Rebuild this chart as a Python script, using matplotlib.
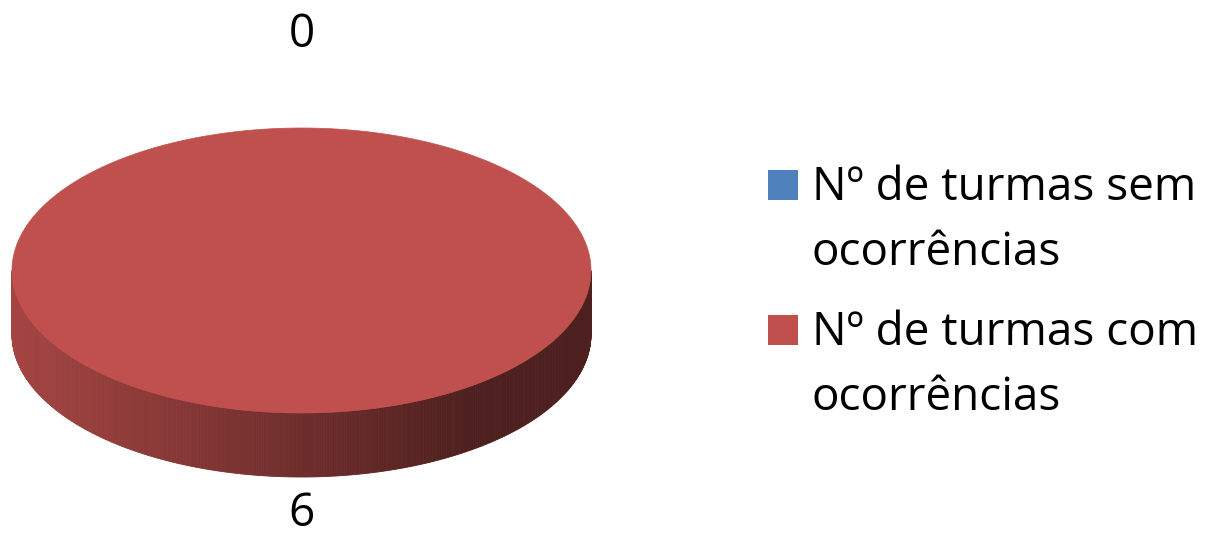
import textwrap
import numpy as np
import matplotlib
matplotlib.use("Agg")
import matplotlib.pyplot as plt
from matplotlib.patches import Polygon, Rectangle
from matplotlib.colors import to_rgb

# data
categories = ["Nº de turmas sem ocorrências", "Nº de turmas com ocorrências"]
values = [0, 6]
colors = ["#4F81BD", "#C0504D"]

plt.rcParams['font.family'] = ['Open Sans', 'DejaVu Sans']

W, H = 1211, 537
fig = plt.figure(figsize=(W / 100, H / 100), dpi=100)
ax = fig.add_axes([0, 0, 1, 1])
ax.set_xlim(0, W)
ax.set_ylim(H, 0)
ax.axis('off')

# pie geometry (pixels)
cx, cy = 301.5, 270.5
rx, ry = 289.5, 142.5
depth = 64


def ell(theta):
    return cx + rx * np.cos(theta), cy - ry * np.sin(theta)


total = sum(values)
start = 90.0  # excel: start at 12 o'clock, clockwise
spans = []
for v in values:
    sweep = 360.0 * v / total
    spans.append((start - sweep, start))
    start -= sweep

# side walls (front half only), shaded left->right
for (a0, a1), v, c in zip(spans, values, colors):
    if v == 0:
        continue
    base = np.array(to_rgb(c))
    lo, hi = np.radians(a0), np.radians(a1)
    ts = np.linspace(lo, hi, 721)
    for t0, t1 in zip(ts[:-1], ts[1:]):
        tm = (t0 + t1) / 2
        if np.sin(tm) > 0.0:
            continue
        x0, y0 = ell(t0)
        x1, y1 = ell(t1)
        frac = (x0 + x1) / 2
        frac = (frac - (cx - rx)) / (2 * rx)
        shade = base * (0.86 - 0.46 * min(1.0, frac * 1.25))
        ax.add_patch(Polygon([(x0, y0), (x1, y1), (x1, y1 + depth), (x0, y0 + depth)],
                             closed=True, facecolor=shade, edgecolor=shade, lw=0.6))

# top surface
for (a0, a1), v, c in zip(spans, values, colors):
    if v == 0:
        continue
    ts = np.radians(np.linspace(a0, a1, 400))
    xs, ys = ell(ts)
    pts = list(zip(xs, ys))
    if v != total:
        pts = [(cx, cy)] + pts
    ax.add_patch(Polygon(pts, closed=True, facecolor=c, edgecolor=c, lw=0.5))

# data labels
for (a0, a1), v in zip(spans, values):
    mid = np.radians((a0 + a1) / 2)
    lx = cx + (rx + 40) * np.cos(mid)
    if np.sin(mid) >= 0:
        ly = cy - (ry + 93) * np.sin(mid)
    else:
        ly = cy + (ry + depth + 37) * (-np.sin(mid))
    ax.text(lx, ly, str(v), ha='center', va='center', fontsize=33, color='black')

# legend
for i, (lab, c) in enumerate(zip(categories, colors)):
    y0 = 185 + i * 145
    ax.add_patch(Rectangle((768, y0 - 15), 30, 30, facecolor=c, edgecolor='none'))
    for j, line in enumerate(textwrap.wrap(lab, 17)):
        ax.text(812, y0 + 15 + j * 65, line, ha='left', va='baseline',
                fontsize=33, color='black')

fig.savefig("out.png", dpi=100, facecolor='white')
